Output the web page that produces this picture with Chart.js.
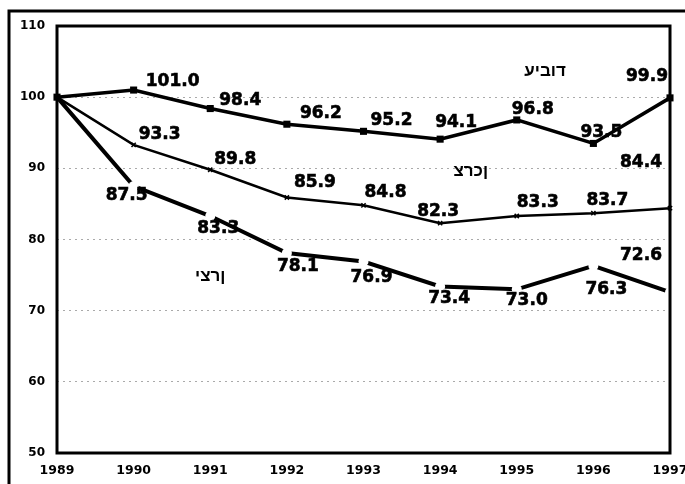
<!DOCTYPE html>
<html lang="he">
<head>
<meta charset="utf-8">
<script src="https://cdn.jsdelivr.net/npm/chart.js@4"></script>
<style>
  html, body { margin: 0; padding: 0; background: #fff; }
  #wrap { position: relative; width: 685px; height: 484px; }
  /* the source prints the Hebrew names in left-to-right glyph order */
  .name {
    position: absolute;
    transform: translate(-50%, -50%);
    font: bold 17px "Liberation Sans", "DejaVu Sans", sans-serif;
    color: #000;
    direction: ltr;
    unicode-bidi: bidi-override;
    white-space: nowrap;
    line-height: 1;
  }
</style>
</head>
<body>
<div id="wrap"><canvas id="chart"></canvas></div>
<script>
// Data
const years = ['1989', '1990', '1991', '1992', '1993', '1994', '1995', '1996', '1997'];
const processing = [100, 101.0, 98.4, 96.2, 95.2, 94.1, 96.8, 93.5, 99.9];
const consumer = [100, 93.3, 89.8, 85.9, 84.8, 82.3, 83.3, 83.7, 84.4];
const producer = [100, 87.5, 83.3, 78.1, 76.9, 73.4, 73.0, 76.3, 72.6];
const seriesNames = ['עיבוד', 'צרכן', 'יצרן'];
const yTicks = [50, 60, 70, 80, 90, 100, 110];

// Where each value label sits relative to its point (px)
const labelOffsets = [
    [null, [39, -8], [30, -8], [34, -11], [28, -11], [16, -17], [16, -10], [8, -11], [-23, -21]],
    [null, [26, -10], [25, -10], [28, -15], [22, -13], [-2, -12], [21, -13], [14, -13], [-29, -46]],
    [null, [-7, 9], [8, 13], [11, 14], [8, 16], [9, 12], [10, 11], [13, 24], [-29, -37]]
];
// Series name placement (category index, value)
const namePlaces = [[6.37, 103.8], [5.4, 89.8], [2.0, 75.0]];

const numFont = 'bold 17px "DejaVu Sans"';

// Outer frame behind everything
const outerFrame = {
    id: 'outerFrame',
    beforeDraw(chart) {
        const c = chart.ctx;
        c.save();
        c.fillStyle = '#fff';
        c.fillRect(0, 0, chart.width, chart.height);
        c.strokeStyle = '#000';
        c.lineWidth = 3;
        c.beginPath();
        c.moveTo(9, chart.height);
        c.lineTo(9, 11);
        c.lineTo(chart.width, 11);
        c.stroke();
        c.restore();
    }
};

// Plot box and value labels
const labelsPlugin = {
    id: 'labelsPlugin',
    afterDatasetsDraw(chart) {
        const c = chart.ctx;
        const a = chart.chartArea;
        c.save();
        c.strokeStyle = '#000';
        c.lineWidth = 3;
        c.strokeRect(a.left, a.top, a.right - a.left, a.bottom - a.top);

        c.fillStyle = '#000';
        c.lineWidth = 0.6;
        c.textAlign = 'center';
        c.textBaseline = 'middle';
        c.font = numFont;
        chart.data.datasets.forEach((ds, i) => {
            const meta = chart.getDatasetMeta(i);
            ds.data.forEach((v, j) => {
                const off = labelOffsets[i][j];
                if (!off) return;
                const p = meta.data[j];
                c.fillText(v.toFixed(1), p.x + off[0], p.y + off[1]);
                c.strokeText(v.toFixed(1), p.x + off[0], p.y + off[1]);
            });
        });
        c.restore();
    }
};

const ctx = document.getElementById('chart').getContext('2d');
const chart = new Chart(ctx, {
    type: 'line',
    data: {
        labels: years,
        datasets: [{
            label: seriesNames[0],
            data: processing,
            borderColor: '#000',
            borderWidth: 3.5,
            pointStyle: 'rect',
            pointRadius: 5,
            pointBackgroundColor: '#000',
            pointBorderWidth: 0,
            tension: 0,
            clip: false
        }, {
            label: seriesNames[1],
            data: consumer,
            borderColor: '#000',
            borderWidth: 2.5,
            pointStyle: 'crossRot',
            pointRadius: 3,
            pointBorderColor: '#000',
            pointBorderWidth: 1.5,
            tension: 0,
            clip: false
        }, {
            label: seriesNames[2],
            data: producer,
            borderColor: '#000',
            borderWidth: 4,
            pointStyle: 'circle',
            pointRadius: (c) => c.dataIndex === 0 ? 0 : 5,
            pointBackgroundColor: '#fff',
            pointBorderWidth: 0,
            tension: 0,
            clip: false
        }]
    },
    options: {
        responsive: true,
        maintainAspectRatio: false,
        animation: false,
        layout: { padding: { top: 26, right: 15, left: 0, bottom: 0 } },
        plugins: {
            legend: { display: false },
            tooltip: { enabled: false }
        },
        scales: {
            x: {
                offset: false,
                grid: { display: false, drawTicks: false },
                border: { display: false },
                ticks: {
                    color: '#000',
                    padding: 10,
                    maxRotation: 0,
                    autoSkip: false,
                    font: { family: 'DejaVu Sans', weight: 'bold', size: 12.5 }
                },
                afterFit(scale) {
                    scale.height = 31;
                    scale.paddingLeft = 0;
                    scale.paddingRight = 0;
                }
            },
            y: {
                min: 50,
                max: 110,
                afterBuildTicks(scale) { scale.ticks = yTicks.map(v => ({ value: v })); },
                grid: {
                    drawTicks: false,
                    color: (c) => (c.tick && (c.tick.value === 50 || c.tick.value === 110)) ? 'rgba(0,0,0,0)' : '#aaa',
                    lineWidth: 1
                },
                border: { display: false, dash: [2, 4] },
                ticks: {
                    color: '#000',
                    padding: 12,
                    font: { family: 'DejaVu Sans', weight: 'bold', size: 12 }
                },
                afterFit(scale) { scale.width = 57; }
            }
        }
    },
    plugins: [outerFrame, labelsPlugin]
});

// Series names as HTML text
const wrap = document.getElementById('wrap');
seriesNames.forEach((n, i) => {
    const el = document.createElement('div');
    el.className = 'name';
    el.textContent = n;
    el.style.left = chart.scales.x.getPixelForValue(namePlaces[i][0]) + 'px';
    el.style.top = chart.scales.y.getPixelForValue(namePlaces[i][1]) + 'px';
    wrap.appendChild(el);
});
</script>
</body>
</html>
